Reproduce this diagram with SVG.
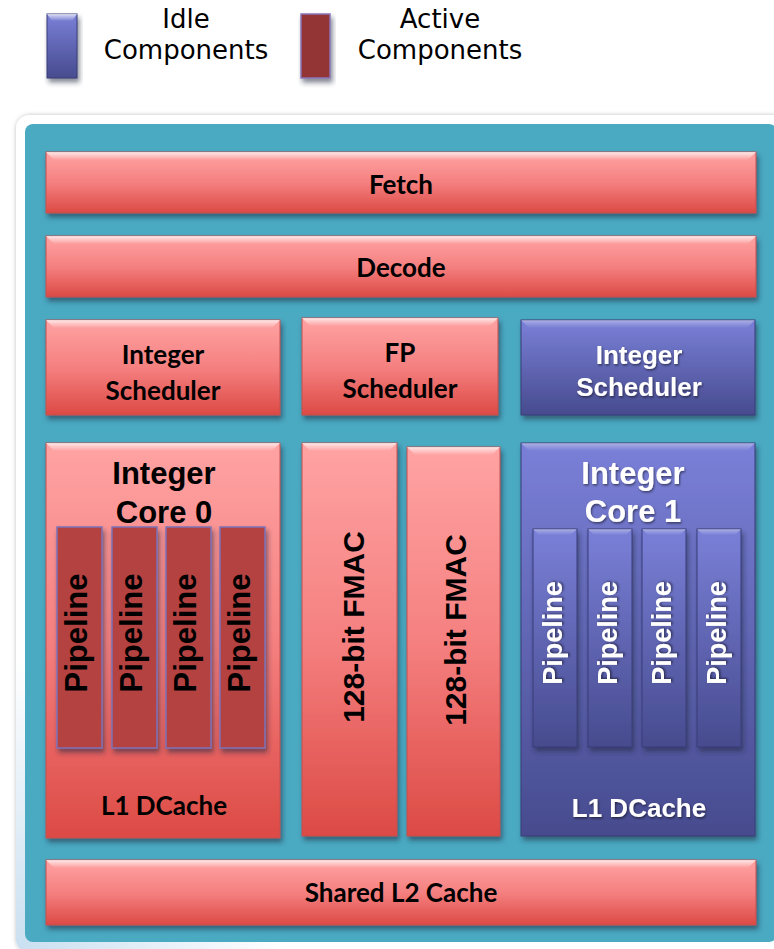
<svg xmlns="http://www.w3.org/2000/svg" width="774" height="949" viewBox="0 0 774 949">
<defs>
<linearGradient id="red" x1="0" y1="0" x2="0" y2="1"><stop offset="0" stop-color="#ffa3a3"/><stop offset="0.5" stop-color="#f58080"/><stop offset="1" stop-color="#dc4a45"/></linearGradient>
<linearGradient id="blue" x1="0" y1="0" x2="0" y2="1"><stop offset="0" stop-color="#7a80d8"/><stop offset="1" stop-color="#474b8e"/></linearGradient>
<linearGradient id="hl" x1="0" y1="0" x2="0" y2="1"><stop offset="0" stop-color="#fff" stop-opacity="0.75"/><stop offset="1" stop-color="#fff" stop-opacity="0"/></linearGradient>
<radialGradient id="bg" cx="0" cy="1" r="0.35" gradientUnits="objectBoundingBox"><stop offset="0" stop-color="#c9dff0"/><stop offset="1" stop-color="#ffffff"/></radialGradient>
<filter id="sh" x="-10%" y="-10%" width="130%" height="130%"><feDropShadow dx="2" dy="4" stdDeviation="2.5" flood-color="#1a2a40" flood-opacity="0.55"/></filter>
<filter id="fr" x="-5%" y="-5%" width="110%" height="110%"><feDropShadow dx="0" dy="0" stdDeviation="2" flood-color="#000" flood-opacity="0.25"/></filter>
<filter id="ts" x="-10%" y="-10%" width="130%" height="130%"><feDropShadow dx="1" dy="1.5" stdDeviation="1" flood-color="#000" flood-opacity="0.5"/></filter>
</defs>
<style>
.red{fill:url(#red);stroke:#c05050;stroke-width:1}
.blue{fill:url(#blue);stroke:#3a3d78;stroke-width:1}
.hl{fill:url(#hl)}
.cal{font-family:Lato,"Open Sans",sans-serif;font-weight:bold;font-size:26px;fill:#000;text-anchor:middle}
.ar{font-family:"Liberation Sans",Arial,sans-serif;font-weight:bold;text-anchor:middle}
.w{fill:#fff}
.k{fill:#000}
.leg{font-family:"DejaVu Sans",Verdana,sans-serif;font-size:26px;fill:#000;text-anchor:middle}
.pipeA{fill:#b4423f;stroke:#7d72b8;stroke-width:1.5}
</style>
<rect x="0" y="0" width="774" height="949" fill="#fff"/>
<g id="legend">
<g id="legend-idle">
<rect x="47" y="14" width="30" height="64" class="blue" filter="url(#sh)"/>
<polygon points="47,14 77,14 72,21 52,21" class="hl"/>
<text class="leg" x="186" y="28">Idle</text>
<text class="leg" x="186" y="59">Components</text>
</g>
<g id="legend-active">
<rect x="301" y="14" width="29" height="64" fill="#933535" stroke="#8a75b8" stroke-width="1.5" filter="url(#sh)"/>
<text class="leg" x="440" y="28">Active</text>
<text class="leg" x="440" y="59">Components</text>
</g>
</g>
<g id="chip">
<rect x="16" y="115" width="770" height="838" rx="14" fill="url(#bg)" filter="url(#fr)"/>
<rect x="25" y="124" width="752" height="818" rx="8" fill="#4aaac2"/>
</g>
<g id="fetch">
<rect x="46" y="152" width="710" height="61" class="red" filter="url(#sh)"/>
<polygon points="46,152 756,152 748,160 54,160" class="hl"/>
<text class="cal" x="401" y="194">Fetch</text>
</g>
<g id="decode">
<rect x="46" y="236" width="710" height="61" class="red" filter="url(#sh)"/>
<polygon points="46,236 756,236 748,244 54,244" class="hl"/>
<text class="cal" x="401" y="277">Decode</text>
</g>
<g id="int-sched-0">
<rect x="46" y="320" width="234" height="95" class="red" filter="url(#sh)"/>
<polygon points="46,320 280,320 272,328 54,328" class="hl"/>
<text class="cal" x="163" y="364" font-size="29">Integer</text>
<text class="cal" x="163" y="400" font-size="29">Scheduler</text>
</g>
<g id="fp-sched">
<rect x="302" y="318" width="196" height="97" class="red" filter="url(#sh)"/>
<polygon points="302,318 498,318 490,326 310,326" class="hl"/>
<text class="cal" x="400" y="362" font-size="29">FP</text>
<text class="cal" x="400" y="398" font-size="29">Scheduler</text>
</g>
<g id="int-sched-1">
<rect x="521" y="320" width="234" height="95" class="blue" filter="url(#sh)"/>
<polygon points="521,320 755,320 747,328 529,328" class="hl" opacity="0.5"/>
<text class="ar w" x="639" y="364" font-size="26" filter="url(#ts)">Integer</text>
<text class="ar w" x="639" y="396" font-size="26" filter="url(#ts)">Scheduler</text>
</g>
<g id="core0">
<rect x="46" y="443" width="234" height="395" class="red" filter="url(#sh)"/>
<polygon points="46,443 280,443 272,451 54,451" class="hl"/>
<text class="ar k" x="164" y="484" font-size="31">Integer</text>
<text class="ar k" x="164" y="523" font-size="31">Core 0</text>
<g id="core0-pipes">
<rect x="57" y="527" width="45" height="221" class="pipeA" filter="url(#sh)"/>
<rect x="112" y="527" width="45" height="221" class="pipeA" filter="url(#sh)"/>
<rect x="166" y="527" width="45" height="221" class="pipeA" filter="url(#sh)"/>
<rect x="220" y="527" width="45" height="221" class="pipeA" filter="url(#sh)"/>
<text class="ar k" font-size="31" transform="translate(87,633) rotate(-90)">Pipeline</text>
<text class="ar k" font-size="31" transform="translate(142,633) rotate(-90)">Pipeline</text>
<text class="ar k" font-size="31" transform="translate(196,633) rotate(-90)">Pipeline</text>
<text class="ar k" font-size="31" transform="translate(250,633) rotate(-90)">Pipeline</text>
</g>
<text class="cal" x="164" y="815" font-size="28">L1 DCache</text>
</g>
<g id="fmac0">
<rect x="302" y="443" width="95" height="393" class="red" filter="url(#sh)"/>
<polygon points="302,443 397,443 389,451 310,451" class="hl"/>
<text class="ar k" font-size="30" transform="translate(364,627) rotate(-90)">128-bit FMAC</text>
</g>
<g id="fmac1">
<rect x="407" y="447" width="93" height="389" class="red" filter="url(#sh)"/>
<polygon points="407,447 500,447 492,455 415,455" class="hl"/>
<text class="ar k" font-size="30" transform="translate(466,630) rotate(-90)">128-bit FMAC</text>
</g>
<g id="core1">
<rect x="521" y="443" width="234" height="393" class="blue" filter="url(#sh)"/>
<polygon points="521,443 755,443 747,451 529,451" class="hl" opacity="0.5"/>
<text class="ar w" x="633" y="484" font-size="31" filter="url(#ts)">Integer</text>
<text class="ar w" x="633" y="522" font-size="31" filter="url(#ts)">Core 1</text>
<g id="core1-pipes">
<rect x="533" y="529" width="44" height="218" class="blue" filter="url(#sh)"/>
<rect x="588" y="529" width="44" height="218" class="blue" filter="url(#sh)"/>
<rect x="642" y="529" width="44" height="218" class="blue" filter="url(#sh)"/>
<rect x="697" y="529" width="44" height="218" class="blue" filter="url(#sh)"/>
<polygon points="533,529 577,529 571,535 539,535" class="hl" opacity="0.5"/>
<polygon points="588,529 632,529 626,535 594,535" class="hl" opacity="0.5"/>
<polygon points="642,529 686,529 680,535 648,535" class="hl" opacity="0.5"/>
<polygon points="697,529 741,529 735,535 703,535" class="hl" opacity="0.5"/>
<text class="ar w" font-size="27" filter="url(#ts)" transform="translate(562,633) rotate(-90)">Pipeline</text>
<text class="ar w" font-size="27" filter="url(#ts)" transform="translate(617,633) rotate(-90)">Pipeline</text>
<text class="ar w" font-size="27" filter="url(#ts)" transform="translate(671,633) rotate(-90)">Pipeline</text>
<text class="ar w" font-size="27" filter="url(#ts)" transform="translate(726,633) rotate(-90)">Pipeline</text>
</g>
<text class="ar w" x="639" y="817" font-size="26" filter="url(#ts)">L1 DCache</text>
</g>
<g id="l2">
<rect x="46" y="860" width="710" height="65" class="red" filter="url(#sh)"/>
<polygon points="46,860 756,860 748,868 54,868" class="hl"/>
<text class="cal" x="401" y="902">Shared L2 Cache</text>
</g>
<g id="connectors"/>
</svg>
